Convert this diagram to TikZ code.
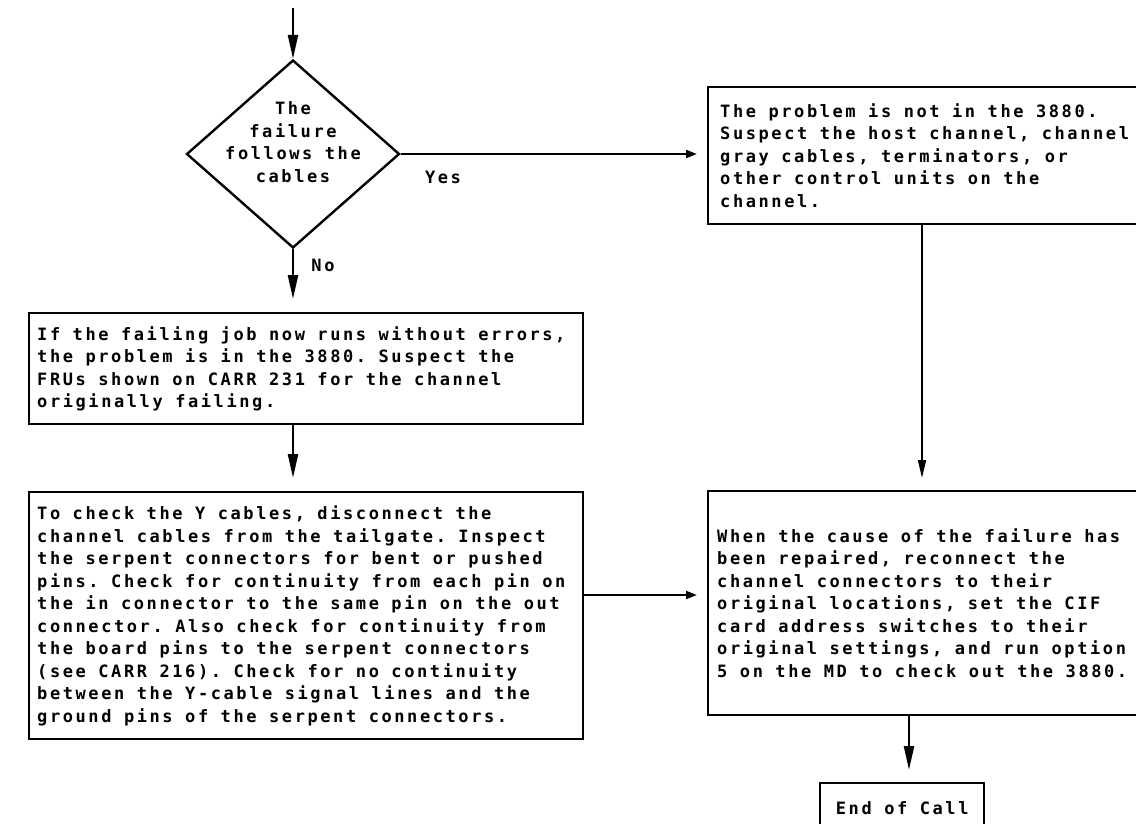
\documentclass[tikz,border=0pt]{standalone}
\usepackage{fontspec}
\newfontfamily\ibm[LetterSpace=15.2]{DejaVu Sans Mono}
\newcommand\ibmfont{\ibm\bfseries\fontsize{17}{22.5}\selectfont
  \fontdimen2\font=12.5pt\relax\fontdimen3\font=0pt\relax\fontdimen4\font=0pt\relax}
\usetikzlibrary{shapes.geometric,arrows.meta,calc}
\begin{document}
\begin{tikzpicture}[x=1pt,y=-1pt,
  every node/.style={font=\ibmfont},
  box/.style={draw, line width=2.4pt, anchor=north west, align=flush left, inner ysep=0pt,
    execute at begin node={\spaceskip=12.5pt\relax\xspaceskip=12.5pt\relax}},
  varrow/.style={line width=2.4pt, -{Triangle[length=24pt,width=10pt]}},
  harrow/.style={line width=2.2pt, -{Triangle[length=11pt,width=8pt]}},
  thinarrow/.style={line width=1.7pt, -{Triangle[length=18pt,width=8pt]}},
]
\path[use as bounding box, clip] (0,0) rectangle (1136,824);

% decision
\node[draw, diamond, line width=2.4pt, minimum width=213pt, minimum height=188pt,
      aspect=1.133, inner sep=0pt] (d) at (293,154) {};
\node[inner sep=0pt, align=center] (dt) at (293,142) {The\\failure\\follows the\\cables};
\node[inner sep=0pt] (yes) at (443,177) {Yes};
\node[inner sep=0pt] (no) at (323,265) {No};

% boxes
\node[box, inner xsep=8pt, text width=538pt, minimum width=554pt, minimum height=111pt] (m) at (28,312)
{If the failing job now runs without errors,\\
the problem is in the 3880. Suspect the\\
FRUs shown on CARR 231 for the channel\\
originally failing.};

\node[box, inner xsep=8pt, text width=538pt, minimum width=554pt, minimum height=247pt] (l) at (28,491)
{To check the Y cables, disconnect the\\
channel cables from the tailgate. Inspect\\
the serpent connectors for bent or pushed\\
pins. Check for continuity from each pin on\\
the in connector to the same pin on the out\\
connector. Also check for continuity from\\
the board pins to the serpent connectors\\
(see CARR 216). Check for no continuity\\
between the Y-cable signal lines and the\\
ground pins of the serpent connectors.};

\node[box, inner xsep=12pt, text width=419pt, minimum width=443pt, minimum height=137pt] (tr) at (707,86)
{The problem is not in the 3880.\\
Suspect the host channel, channel\\
gray cables, terminators, or\\
other control units on the\\
channel.};

\node[box, inner xsep=9pt, text width=425pt, minimum width=443pt, minimum height=224pt] (lr) at (707,490)
{When the cause of the failure has\\
been repaired, reconnect the\\
channel connectors to their\\
original locations, set the CIF\\
card address switches to their\\
original settings, and run option\\
5 on the MD to check out the 3880.};

\node[draw, line width=2.4pt, anchor=north west, minimum width=164pt, minimum height=50pt, inner sep=0pt] (e) at (819,782) {End of Call};

% connectors
\coordinate (start) at (293,8);
\coordinate (hy) at (0,595);
\coordinate (vx) at (922,0);
\coordinate (ex) at (909,0);

\draw[varrow] (start) -- (d.north);
\draw[varrow, shorten >=13pt] (d.south) -- (m.north -| d.south);
\draw[harrow, shorten >=10pt] (d.east) -- (tr.west |- d.east);
\draw[varrow, shorten >=13pt] (m.south -| d.south) -- (l.north -| d.south);
\draw[harrow, shorten >=10pt] (l.east |- hy) -- (lr.west |- hy);
\draw[thinarrow, shorten >=12pt] (tr.south -| vx) -- (lr.north -| vx);
\draw[varrow, shorten >=12pt] (lr.south -| ex) -- (e.north -| ex);
\end{tikzpicture}
\end{document}
